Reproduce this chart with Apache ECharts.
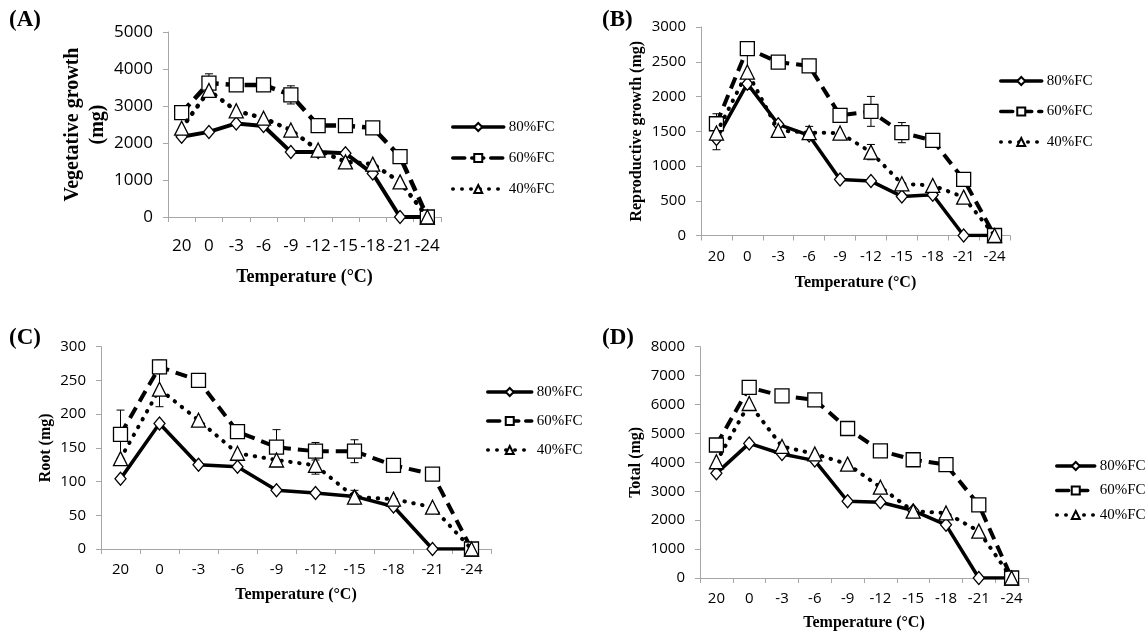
<!DOCTYPE html>
<html>
<head>
<meta charset="utf-8">
<style>
  html, body { margin: 0; padding: 0; background: #fff; }
  #chart { width: 1146px; height: 633px; }
</style>
<script src="https://cdn.jsdelivr.net/npm/echarts@6/dist/echarts.min.js"></script>
</head>
<body>
<div id="chart"></div>
<script>
/* 温度 × 水分处理 四联图 */

// ── 数据 ──
const categories = ['20', '0', '-3', '-6', '-9', '-12', '-15', '-18', '-21', '-24'];
const seriesNames = ['80%FC', '60%FC', '40%FC'];

// (A) Vegetative growth (mg)
const veg80 = [2170, 2300, 2530, 2460, 1760, 1760, 1720, 1175, 0, 0];
const veg60 = [2820, 3620, 3570, 3570, 3300, 2470, 2470, 2410, 1630, 0];
const veg40 = [2400, 3420, 2870, 2670, 2350, 1810, 1490, 1430, 950, 0];
const vegErr80 = [null, null, null, null, null, null, null, null, null, null];
const vegErr60 = [null, 250, null, null, 245, null, null, null, null, null];
const vegErr40 = [null, null, null, null, null, null, null, null, null, null];

// (B) Reproductive growth (mg)
const rep80 = [1390, 2185, 1600, 1440, 807, 783, 562, 586, 0, 0];
const rep60 = [1608, 2690, 2496, 2440, 1728, 1786, 1480, 1368, 807, 0];
const rep40 = [1474, 2352, 1512, 1480, 1474, 1200, 744, 720, 552, 0];
const repErr80 = [156, null, null, null, null, null, null, null, null, null];
const repErr60 = [144, null, null, null, null, 215, 145, null, null, null];
const repErr40 = [null, 250, null, 90, null, 110, null, null, null, null];

// (C) Root (mg)
const root80 = [104, 186, 125, 122, 87, 83, 78, 63, 0, 0];
const root60 = [170, 270, 250, 174, 151, 145, 145, 124, 111, 0];
const root40 = [134, 237, 191, 142, 132, 124, 77, 74, 62, 0];
const rootErr80 = [null, null, null, null, null, null, null, null, null, null];
const rootErr60 = [36, 10, null, null, 26, 13, 17, null, null, null];
const rootErr40 = [null, 26, null, null, 10, 13, 10, null, null, null];

// (D) Total (mg)
const total80 = [3620, 4655, 4290, 4060, 2655, 2620, 2333, 1840, 0, 0];
const total60 = [4600, 6590, 6300, 6160, 5170, 4400, 4090, 3920, 2530, 0];
const total40 = [4020, 6035, 4550, 4290, 3940, 3140, 2310, 2250, 1620, 0];
const totalErr80 = [null, null, null, null, null, null, null, null, null, null];
const totalErr60 = [null, 200, null, null, 210, null, null, null, null, null];
const totalErr40 = [null, null, null, null, null, null, null, null, null, null];

// ── 面板布局 ──
const panels = [
  { label: '(A)', labelPos: [9, 9], grid: { left: 168, top: 32, width: 273, height: 185 },
    yMax: 5000, yStep: 1000, yName: 'Vegetative growth\n(mg)', yNameSize: 20, yNameGap: 44,
    tickSize: 17, xMargin: 21, xNameSize: 18, xNameGap: 51, lineW: 4,
    legend: { left: 451, top: 119.5, w: 51, gap: 16 },
    values: [veg80, veg60, veg40], errs: [vegErr80, vegErr60, vegErr40] },
  { label: '(B)', labelPos: [602, 9], grid: { left: 701, top: 27, width: 309, height: 208.5 },
    yMax: 3000, yStep: 500, yName: 'Reproductive growth (mg)', yNameSize: 16, yNameGap: 45,
    tickSize: 15, xMargin: 14, xNameSize: 16, xNameGap: 39.5, lineW: 3.5,
    legend: { left: 999, top: 73.5, w: 41, gap: 15.5 },
    values: [rep80, rep60, rep40], errs: [repErr80, repErr60, repErr40] },
  { label: '(C)', labelPos: [9, 327], grid: { left: 101, top: 346.7, width: 390, height: 202.3 },
    yMax: 300, yStep: 50, yName: 'Root (mg)', yNameSize: 16, yNameGap: 39,
    tickSize: 15, xMargin: 13.5, xNameSize: 16, xNameGap: 38, lineW: 3.5,
    legend: { left: 486, top: 384.5, w: 44, gap: 14 },
    values: [root80, root60, root40], errs: [rootErr80, rootErr60, rootErr40] },
  { label: '(D)', labelPos: [602, 327], grid: { left: 700, top: 346.7, width: 328, height: 231.3 },
    yMax: 8000, yStep: 1000, yName: 'Total (mg)', yNameSize: 16, yNameGap: 42,
    tickSize: 15, xMargin: 13.5, xNameSize: 16, xNameGap: 37, lineW: 3.5,
    legend: { left: 1055, top: 458.5, w: 38, gap: 9.5 },
    values: [total80, total60, total40], errs: [totalErr80, totalErr60, totalErr40] }
];

// ── 样式 ──
const SANS = '"Open Sans", "Liberation Sans", sans-serif';
const SERIF = '"Liberation Serif", "DejaVu Serif", serif';
const AXIS_GREY = '#a6a6a6';

function seriesStyle(k, w) {
  const marker = { color: '#fff', borderColor: '#000', borderWidth: 1.3 };
  if (k === 0) return { symbol: 'diamond', symbolSize: [11, 13], itemStyle: marker,
    lineStyle: { color: '#000', width: w, type: 'solid' } };
  if (k === 1) return { symbol: 'rect', symbolSize: 14, itemStyle: marker,
    lineStyle: { color: '#000', width: w + 0.5, type: [12, 7] } };
  return { symbol: 'triangle', symbolSize: 14, itemStyle: marker,
    lineStyle: { color: '#000', width: w + 0.5, type: [0.5, 8.5], cap: 'round' } };
}

// ── 误差线（自定义系列）──
function renderErr(params, api) {
  const i = api.value(0);
  const lo = api.coord([i, api.value(1)]);
  const hi = api.coord([i, api.value(2)]);
  const cap = 4;
  const st = { stroke: '#000', lineWidth: 1 };
  return { type: 'group', children: [
    { type: 'line', shape: { x1: lo[0], y1: lo[1], x2: hi[0], y2: hi[1] }, style: st },
    { type: 'line', shape: { x1: lo[0] - cap, y1: lo[1], x2: lo[0] + cap, y2: lo[1] }, style: st },
    { type: 'line', shape: { x1: hi[0] - cap, y1: hi[1], x2: hi[0] + cap, y2: hi[1] }, style: st }
  ] };
}

const option = {
  animation: false,
  backgroundColor: '#fff',
  title: [], grid: [], xAxis: [], yAxis: [], legend: [], series: []
};

panels.forEach((p, pi) => {
  option.title.push({ text: p.label, left: p.labelPos[0], top: p.labelPos[1], padding: 0,
    textStyle: { fontFamily: SERIF, fontWeight: 'bold', fontSize: 23, color: '#000' } });
  option.grid.push(Object.assign({ containLabel: false }, p.grid));
  option.xAxis.push({
    type: 'category', gridIndex: pi, data: categories, boundaryGap: true,
    axisLine: { lineStyle: { color: AXIS_GREY, width: 1 } },
    axisTick: { show: true, interval: 0, length: 5, lineStyle: { color: AXIS_GREY } },
    axisLabel: { interval: 0, color: '#000', fontFamily: SANS, fontSize: p.tickSize, margin: p.xMargin },
    splitLine: { show: false },
    name: 'Temperature (°C)', nameLocation: 'middle', nameGap: p.xNameGap,
    nameTextStyle: { fontFamily: SERIF, fontWeight: 'bold', fontSize: p.xNameSize, color: '#000' }
  });
  option.yAxis.push({
    type: 'value', gridIndex: pi, min: 0, max: p.yMax, interval: p.yStep,
    axisLine: { show: true, lineStyle: { color: AXIS_GREY, width: 1 } },
    axisTick: { show: true, length: 5, lineStyle: { color: AXIS_GREY } },
    axisLabel: { color: '#000', fontFamily: SANS, fontSize: p.tickSize, margin: 15,
      formatter: v => String(v) },
    splitLine: { show: false },
    name: p.yName, nameLocation: 'middle', nameRotate: 90, nameGap: p.yNameGap,
    nameTextStyle: { fontFamily: SERIF, fontWeight: 'bold', fontSize: p.yNameSize, color: '#000',
      lineHeight: p.yNameSize + 5 }
  });
  option.legend.push({
    orient: 'vertical', left: p.legend.left, top: p.legend.top, padding: 0,
    itemWidth: p.legend.w, itemHeight: 10, itemGap: p.legend.gap, selectedMode: false,
    data: seriesNames, lineStyle: { cap: 'round', width: 3.5 },
    textStyle: { fontFamily: SERIF, fontSize: 15, color: '#000', padding: [0, 0, 0, 0] }
  });

  // 误差线
  p.errs.forEach((errArr, k) => {
    const pts = [];
    errArr.forEach((e, i) => { if (e != null) pts.push([i, p.values[k][i] - e, p.values[k][i] + e]); });
    if (!pts.length) return;
    option.series.push({ name: 'err' + pi + k, type: 'custom', coordinateSystem: 'cartesian2d',
      xAxisIndex: pi, yAxisIndex: pi, data: pts, encode: { x: 0, y: [1, 2] },
      renderItem: renderErr, z: 1, silent: true });
  });

  // 三条折线
  p.values.forEach((vals, k) => {
    option.series.push(Object.assign({
      name: seriesNames[k], type: 'line', xAxisIndex: pi, yAxisIndex: pi, data: vals,
      showAllSymbol: true, z: 2 + k, emphasis: { disabled: true }, silent: true
    }, seriesStyle(k, p.lineW)));
  });
});

const chart = echarts.init(document.getElementById('chart'));
chart.setOption(option);
window.addEventListener('resize', () => chart.resize());
</script>
</body>
</html>
